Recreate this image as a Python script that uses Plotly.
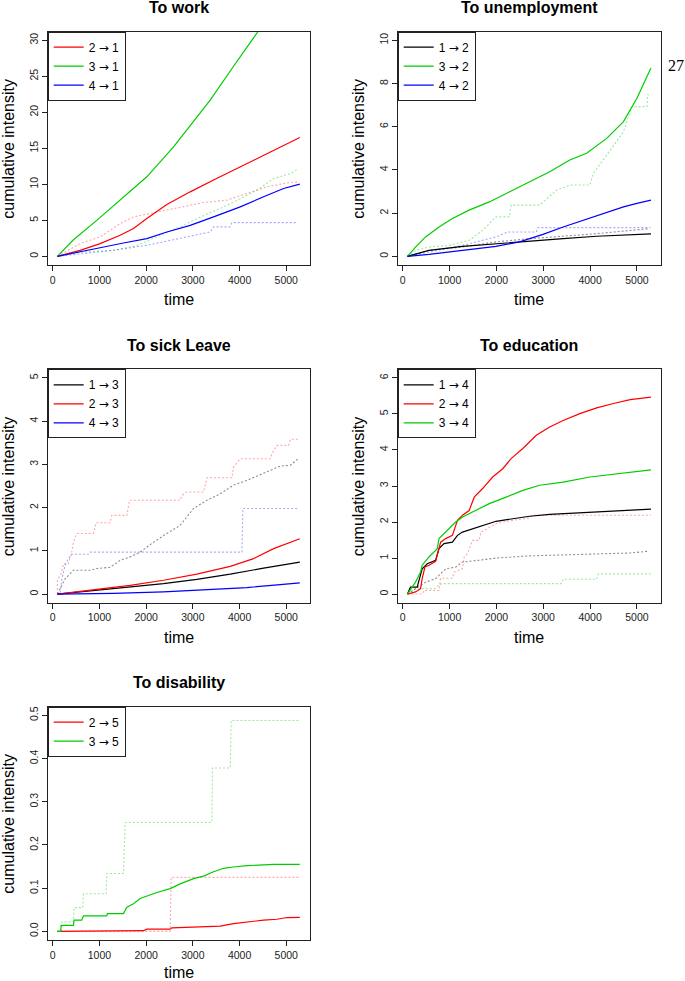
import plotly.graph_objects as go

# ---------------- data ----------------
# To work
w21_t = [100, 586, 1014, 1443, 1729, 2014, 2443, 2943, 3443, 4014, 4514, 4943, 5290]
w21_v = [0, 0.84, 1.77, 2.93, 3.86, 5.25, 7.2, 8.96, 10.6, 12.45, 14.07, 15.47, 16.5]
w31_t = [100, 443, 943, 1443, 2014, 2586, 3371, 3871, 4393, 4500]
w31_v = [0, 2.3, 5.0, 7.8, 11.05, 15.2, 21.7, 26.4, 31.3, 32.2]
w41_t = [100, 586, 1014, 1514, 2014, 2443, 2943, 3443, 4014, 4514, 4943, 5290]
w41_v = [0, 0.6, 1.2, 1.86, 2.46, 3.39, 4.3, 5.48, 6.87, 8.27, 9.43, 10.03]
w21n_t = [100, 586, 1014, 1443, 1729, 2229, 2729, 3229, 3729, 4157, 4586, 5014, 5264]
w21n_v = [0, 1.77, 2.7, 4.55, 5.48, 6.18, 6.87, 7.48, 7.8, 8.73, 9.66, 10.2, 10.36]
w31n_t = [100, 586, 1300, 1800, 2229, 2729, 3086, 3657, 4014, 4371, 4729, 5086, 5264]
w31n_v = [0, 0.6, 0.84, 1.5, 2.7, 4.1, 5.25, 6.87, 8.0, 9.2, 10.8, 11.5, 12.2]
w41n_t = [100, 586, 1300, 2014, 2729, 3014, 3371, 3443, 3800, 3836, 5243]
w41n_v = [0, 0.37, 0.84, 1.53, 2.46, 2.93, 3.39, 4.1, 4.1, 4.69, 4.69]

# To unemployment
u12_t = [100, 559, 1275, 1991, 2708, 3424, 4140, 4857, 5300]
u12_v = [0, 0.28, 0.46, 0.59, 0.71, 0.82, 0.93, 1.0, 1.04]
u32_t = [100, 272, 487, 774, 1060, 1418, 1848, 2278, 2708, 3138, 3567, 3926, 4355, 4713, 5000, 5300]
u32_v = [0, 0.43, 0.9, 1.36, 1.75, 2.14, 2.52, 2.99, 3.45, 3.92, 4.46, 4.77, 5.46, 6.24, 7.32, 8.72]
u42_t = [100, 559, 1275, 1991, 2493, 2994, 3424, 3854, 4284, 4713, 5000, 5300]
u42_v = [0, 0.09, 0.28, 0.46, 0.67, 1.02, 1.36, 1.67, 1.98, 2.29, 2.45, 2.6]
u12n_t = [100, 559, 1275, 1991, 2708, 3424, 4140, 4857, 5260]
u12n_v = [0, 0.28, 0.43, 0.67, 0.82, 0.93, 1.05, 1.2, 1.28]
u32n_t = [100, 272, 559, 989, 1418, 1705, 1991, 2278, 2314, 2923, 3281, 3567, 3997, 4069,
          4355, 4713, 4893, 5215, 5229, 5260]
u32n_v = [0, 0.28, 0.43, 0.51, 0.74, 1.2, 1.83, 1.83, 2.37, 2.37, 3.06, 3.3, 3.3, 3.84,
          4.69, 5.77, 6.93, 6.93, 7.48, 7.48]
u42n_t = [100, 559, 1275, 1705, 1991, 2242, 2851, 2887, 5290]
u42n_v = [0, 0.2, 0.51, 0.74, 0.9, 1.13, 1.13, 1.33, 1.33]

# To sick leave
s13_t = [100, 943, 1657, 2371, 3086, 3800, 4514, 5290]
s13_v = [0, 0.09, 0.16, 0.24, 0.34, 0.46, 0.6, 0.74]
s23_t = [100, 943, 1657, 2371, 3086, 3800, 4300, 4729, 5014, 5290]
s23_v = [0, 0.11, 0.2, 0.32, 0.46, 0.64, 0.82, 1.05, 1.17, 1.28]
s43_t = [100, 1300, 2371, 3443, 4157, 4871, 5290]
s43_v = [0, 0.015, 0.05, 0.11, 0.15, 0.22, 0.26]
s13n_t = [100, 264, 443, 800, 943, 1229, 1443, 1657, 1871, 2157, 2443, 2729, 3014, 3300,
          3586, 3871, 4157, 4514, 4871, 5086, 5243]
s13n_v = [0, 0.35, 0.55, 0.55, 0.59, 0.62, 0.78, 0.86, 0.97, 1.2, 1.4, 1.59, 1.98, 2.17,
          2.32, 2.52, 2.63, 2.79, 2.96, 2.98, 3.12]
s23n_t = [100, 100, 193, 229, 336, 407, 443, 514, 871, 929, 1229, 1264, 1586, 1643, 2729,
          2764, 2871, 3229, 3300, 3836, 3871, 4014, 4657, 4693, 4800, 5050, 5086, 5264]
s23n_v = [0, 0.31, 0.51, 0.7, 0.7, 0.97, 1.2, 1.4, 1.4, 1.65, 1.65, 1.82, 1.82, 2.17, 2.17,
          2.28, 2.36, 2.36, 2.69, 2.69, 2.94, 3.13, 3.13, 3.25, 3.44, 3.44, 3.58, 3.58]
s43n_t = [100, 157, 193, 264, 336, 407, 764, 800, 4050, 4071, 5243]
s43n_v = [0, 0, 0.35, 0.66, 0.82, 0.92, 0.92, 0.97, 0.97, 1.98, 1.98]

# To education
e14_t = [100, 165, 308, 415, 523, 702, 774, 881, 1060, 1168, 1275, 1490, 1705, 1991, 2349,
         2708, 3138, 3782, 4499, 5300]
e14_v = [0, 0.19, 0.19, 0.7, 0.84, 0.94, 1.26, 1.4, 1.44, 1.63, 1.72, 1.81, 1.91, 2.02, 2.09,
         2.16, 2.21, 2.26, 2.31, 2.36]
e24_t = [100, 272, 380, 415, 473, 559, 702, 774, 809, 917, 1060, 1168, 1275, 1418, 1526, 1705,
         1920, 2135, 2314, 2564, 2851, 3138, 3424, 3782, 4140, 4499, 4857, 5300]
e24_v = [0, 0.06, 0.15, 0.43, 0.75, 0.8, 0.91, 1.26, 1.44, 1.54, 1.63, 2.05, 2.19, 2.32, 2.69,
         2.93, 3.25, 3.48, 3.76, 4.04, 4.41, 4.64, 4.82, 5.01, 5.17, 5.29, 5.4, 5.47]
e34_t = [100, 272, 380, 415, 559, 738, 774, 917, 1132, 1275, 1562, 1848, 2206, 2564, 2923,
         3424, 3997, 4570, 5300]
e34_v = [0, 0.33, 0.61, 0.8, 1.03, 1.26, 1.54, 1.72, 2.0, 2.14, 2.32, 2.51, 2.69, 2.88, 3.02,
         3.11, 3.25, 3.34, 3.45]
e14n_t = [100, 272, 487, 702, 917, 1132, 1275, 1633, 1991, 2708, 3424, 4140, 4857, 5260]
e14n_v = [0, 0.15, 0.33, 0.43, 0.7, 0.75, 0.89, 0.94, 1.0, 1.06, 1.09, 1.11, 1.14, 1.19]
e24n_t = [100, 415, 451, 774, 809, 1060, 1096, 1275, 1311, 1383, 1490, 1633, 1669, 1848, 1991,
          2206, 2349, 2708, 2779, 5300]
e24n_v = [0, 0, 0.1, 0.1, 0.44, 0.44, 0.61, 0.7, 1.03, 1.12, 1.49, 1.49, 1.72, 1.86, 1.95,
          2.02, 2.05, 2.11, 2.19, 2.19]
e34n_t = [100, 272, 702, 774, 845, 3388, 3424, 4140, 4176, 5290]
e34n_v = [0, 0.15, 0.15, 0.26, 0.29, 0.29, 0.41, 0.41, 0.56, 0.56]

# To disability
d25_t = [100, 214, 214, 1943, 2014, 2514, 2550, 3086, 3586, 3871, 4157, 4514, 4800, 5014, 5290]
d25_v = [0, 0, 0.0015, 0.0015, 0.005, 0.005, 0.008, 0.01, 0.012, 0.018, 0.022, 0.026, 0.028,
         0.032, 0.0325]
d35_t = [100, 171, 179, 443, 457, 621, 657, 1157, 1171, 1514, 1586, 1729, 1871, 2014, 2229,
         2514, 2729, 3014, 3229, 3443, 3657, 3871, 4157, 4729, 5290]
d35_v = [0, 0, 0.014, 0.014, 0.026, 0.026, 0.036, 0.036, 0.041, 0.041, 0.056, 0.064, 0.076,
         0.082, 0.09, 0.099, 0.11, 0.122, 0.128, 0.138, 0.146, 0.149, 0.152, 0.155, 0.155]
d25n_t = [100, 2514, 2536, 5290]
d25n_v = [0, 0, 0.125, 0.125]
d35n_t = [100, 186, 200, 443, 457, 643, 657, 1143, 1157, 1514, 1550, 3407, 3421, 3800, 3821, 5270]
d35n_v = [0, 0, 0.022, 0.022, 0.055, 0.055, 0.087, 0.087, 0.134, 0.134, 0.252, 0.252, 0.378,
          0.378, 0.488, 0.488]

titles = ["To work", "To unemployment", "To sick Leave", "To education", "To disability"]
x_ticks = [0, 1000, 2000, 3000, 4000, 5000]
y_ticks = [
    [0, 5, 10, 15, 20, 25, 30],
    [0, 2, 4, 6, 8, 10],
    [0, 1, 2, 3, 4, 5],
    [0, 1, 2, 3, 4, 5, 6],
    [0, 0.1, 0.2, 0.3, 0.4, 0.5],
]
y_labels = [
    ["0", "5", "10", "15", "20", "25", "30"],
    ["0", "2", "4", "6", "8", "10"],
    ["0", "1", "2", "3", "4", "5"],
    ["0", "1", "2", "3", "4", "5", "6"],
    ["0.0", "0.1", "0.2", "0.3", "0.4", "0.5"],
]
y_max = [30, 10, 5, 6, 0.5]

# ---------------- styling ----------------
W, H = 685, 981
COL = {
    "black": ("#000000", "rgba(0,0,0,0.45)"),
    "red": ("#FF0000", "rgba(255,0,0,0.35)"),
    "green": ("#00CD00", "rgba(0,205,0,0.4)"),
    "blue": ("#0000FF", "rgba(0,0,255,0.35)"),
}
FONT = "Liberation Sans, Arial, Helvetica, sans-serif"
ARROW = "<span style='font-family:DejaVu Sans'>→</span>"

col_px = [(47.7, 310.0), (397.7, 660.7)]
row_px = [(31.7, 265.0), (369.3, 602.7), (706.7, 940.0)]
cells = [(0, 0), (0, 1), (1, 0), (1, 1), (2, 0)]

panels = [
    [(("2", "1"), "red", w21_t, w21_v, w21n_t, w21n_v),
     (("3", "1"), "green", w31_t, w31_v, w31n_t, w31n_v),
     (("4", "1"), "blue", w41_t, w41_v, w41n_t, w41n_v)],
    [(("1", "2"), "black", u12_t, u12_v, u12n_t, u12n_v),
     (("3", "2"), "green", u32_t, u32_v, u32n_t, u32n_v),
     (("4", "2"), "blue", u42_t, u42_v, u42n_t, u42n_v)],
    [(("1", "3"), "black", s13_t, s13_v, s13n_t, s13n_v),
     (("2", "3"), "red", s23_t, s23_v, s23n_t, s23n_v),
     (("4", "3"), "blue", s43_t, s43_v, s43n_t, s43n_v)],
    [(("1", "4"), "black", e14_t, e14_v, e14n_t, e14n_v),
     (("2", "4"), "red", e24_t, e24_v, e24n_t, e24n_v),
     (("3", "4"), "green", e34_t, e34_v, e34n_t, e34n_v)],
    [(("2", "5"), "red", d25_t, d25_v, d25n_t, d25n_v),
     (("3", "5"), "green", d35_t, d35_v, d35n_t, d35n_v)],
]

fig = go.Figure()
layout = dict(
    width=W, height=H, margin=dict(l=0, r=0, t=0, b=0),
    paper_bgcolor="white", plot_bgcolor="white",
    font=dict(family=FONT, color="black"),
    showlegend=True,
)
annotations = []

x_lo, x_hi = 100, 5300
x_pad = 0.04 * (x_hi - x_lo)

for i, (series, (r, c)) in enumerate(zip(panels, cells)):
    n = i + 1
    xa = "x" if n == 1 else f"x{n}"
    ya = "y" if n == 1 else f"y{n}"
    lg = "legend" if n == 1 else f"legend{n}"
    x0p, x1p = col_px[c]
    y0p, y1p = row_px[r]
    xd = [x0p / W, x1p / W]
    yd = [1 - y1p / H, 1 - y0p / H]

    # dotted (nonparametric) first, then solid fits
    for (a, b), cname, t, v, tn, vn in series:
        fig.add_trace(go.Scatter(
            x=tn, y=vn, mode="lines", xaxis=xa, yaxis=ya, showlegend=False,
            line=dict(color=COL[cname][1], width=1.1, dash="2px,2px"),
            hoverinfo="skip"))
    for (a, b), cname, t, v, tn, vn in series:
        fig.add_trace(go.Scatter(
            x=t, y=v, mode="lines", name=f"{a} {ARROW} {b}", xaxis=xa, yaxis=ya, legend=lg,
            line=dict(color=COL[cname][0], width=1.2)))

    ym = y_max[i]
    layout["xaxis" if n == 1 else f"xaxis{n}"] = dict(
        domain=xd, anchor=ya, range=[x_lo - x_pad, x_hi + x_pad],
        tickvals=x_ticks, ticktext=[str(t) for t in x_ticks],
        showline=True, mirror=True, linecolor="#222", linewidth=1,
        ticks="outside", ticklen=5, tickcolor="#222", tickwidth=1,
        showgrid=False, zeroline=False,
        tickfont=dict(size=10.5, family=FONT, color="#222"),
    )
    layout["yaxis" if n == 1 else f"yaxis{n}"] = dict(
        domain=yd, anchor=xa, range=[-0.04 * ym, 1.04 * ym],
        tickvals=y_ticks[i], ticktext=y_labels[i], tickangle=-90,
        showline=True, mirror=True, linecolor="#222", linewidth=1,
        ticks="outside", ticklen=5, tickcolor="#222", tickwidth=1,
        showgrid=False, zeroline=False,
        tickfont=dict(size=10.5, family=FONT, color="#222"),
    )
    layout[lg] = dict(
        x=xd[0], y=yd[1], xanchor="left", yanchor="top",
        bgcolor="white", bordercolor="#222", borderwidth=1,
        font=dict(size=12, family=FONT, color="black"),
        itemwidth=30, tracegroupgap=0,
    )
    cx = (x0p + x1p) / 2 / W
    cy = 1 - (y0p + y1p) / 2 / H
    annotations.append(dict(
        text="<b>" + titles[i] + "</b>", x=cx, y=1 - (y0p - 24.0) / H,
        xref="paper", yref="paper", xanchor="center", yanchor="middle",
        showarrow=False, font=dict(size=16, family=FONT, color="black")))
    annotations.append(dict(
        text="time", x=cx, y=1 - (y1p + (32.5 if r == 2 else 34.5)) / H,
        xref="paper", yref="paper", xanchor="center", yanchor="middle",
        showarrow=False, font=dict(size=16, family=FONT, color="black")))
    annotations.append(dict(
        text="cumulative intensity", x=(x0p - 39.4) / W, y=cy, textangle=-90,
        xref="paper", yref="paper", xanchor="center", yanchor="middle",
        showarrow=False, font=dict(size=16, family=FONT, color="black")))

annotations.append(dict(
    text="27", x=675.5 / W, y=1 - 66 / H, xref="paper", yref="paper",
    xanchor="center", yanchor="middle", showarrow=False,
    font=dict(size=16, family="Liberation Serif, DejaVu Serif, serif", color="black")))

layout["annotations"] = annotations
fig.update_layout(**layout)
fig.write_html(
    "out.html",
    config={"displayModeBar": False},
    post_script="document.body.style.margin='0';document.body.style.padding='0';"
                "document.documentElement.style.overflow='hidden';",
)
